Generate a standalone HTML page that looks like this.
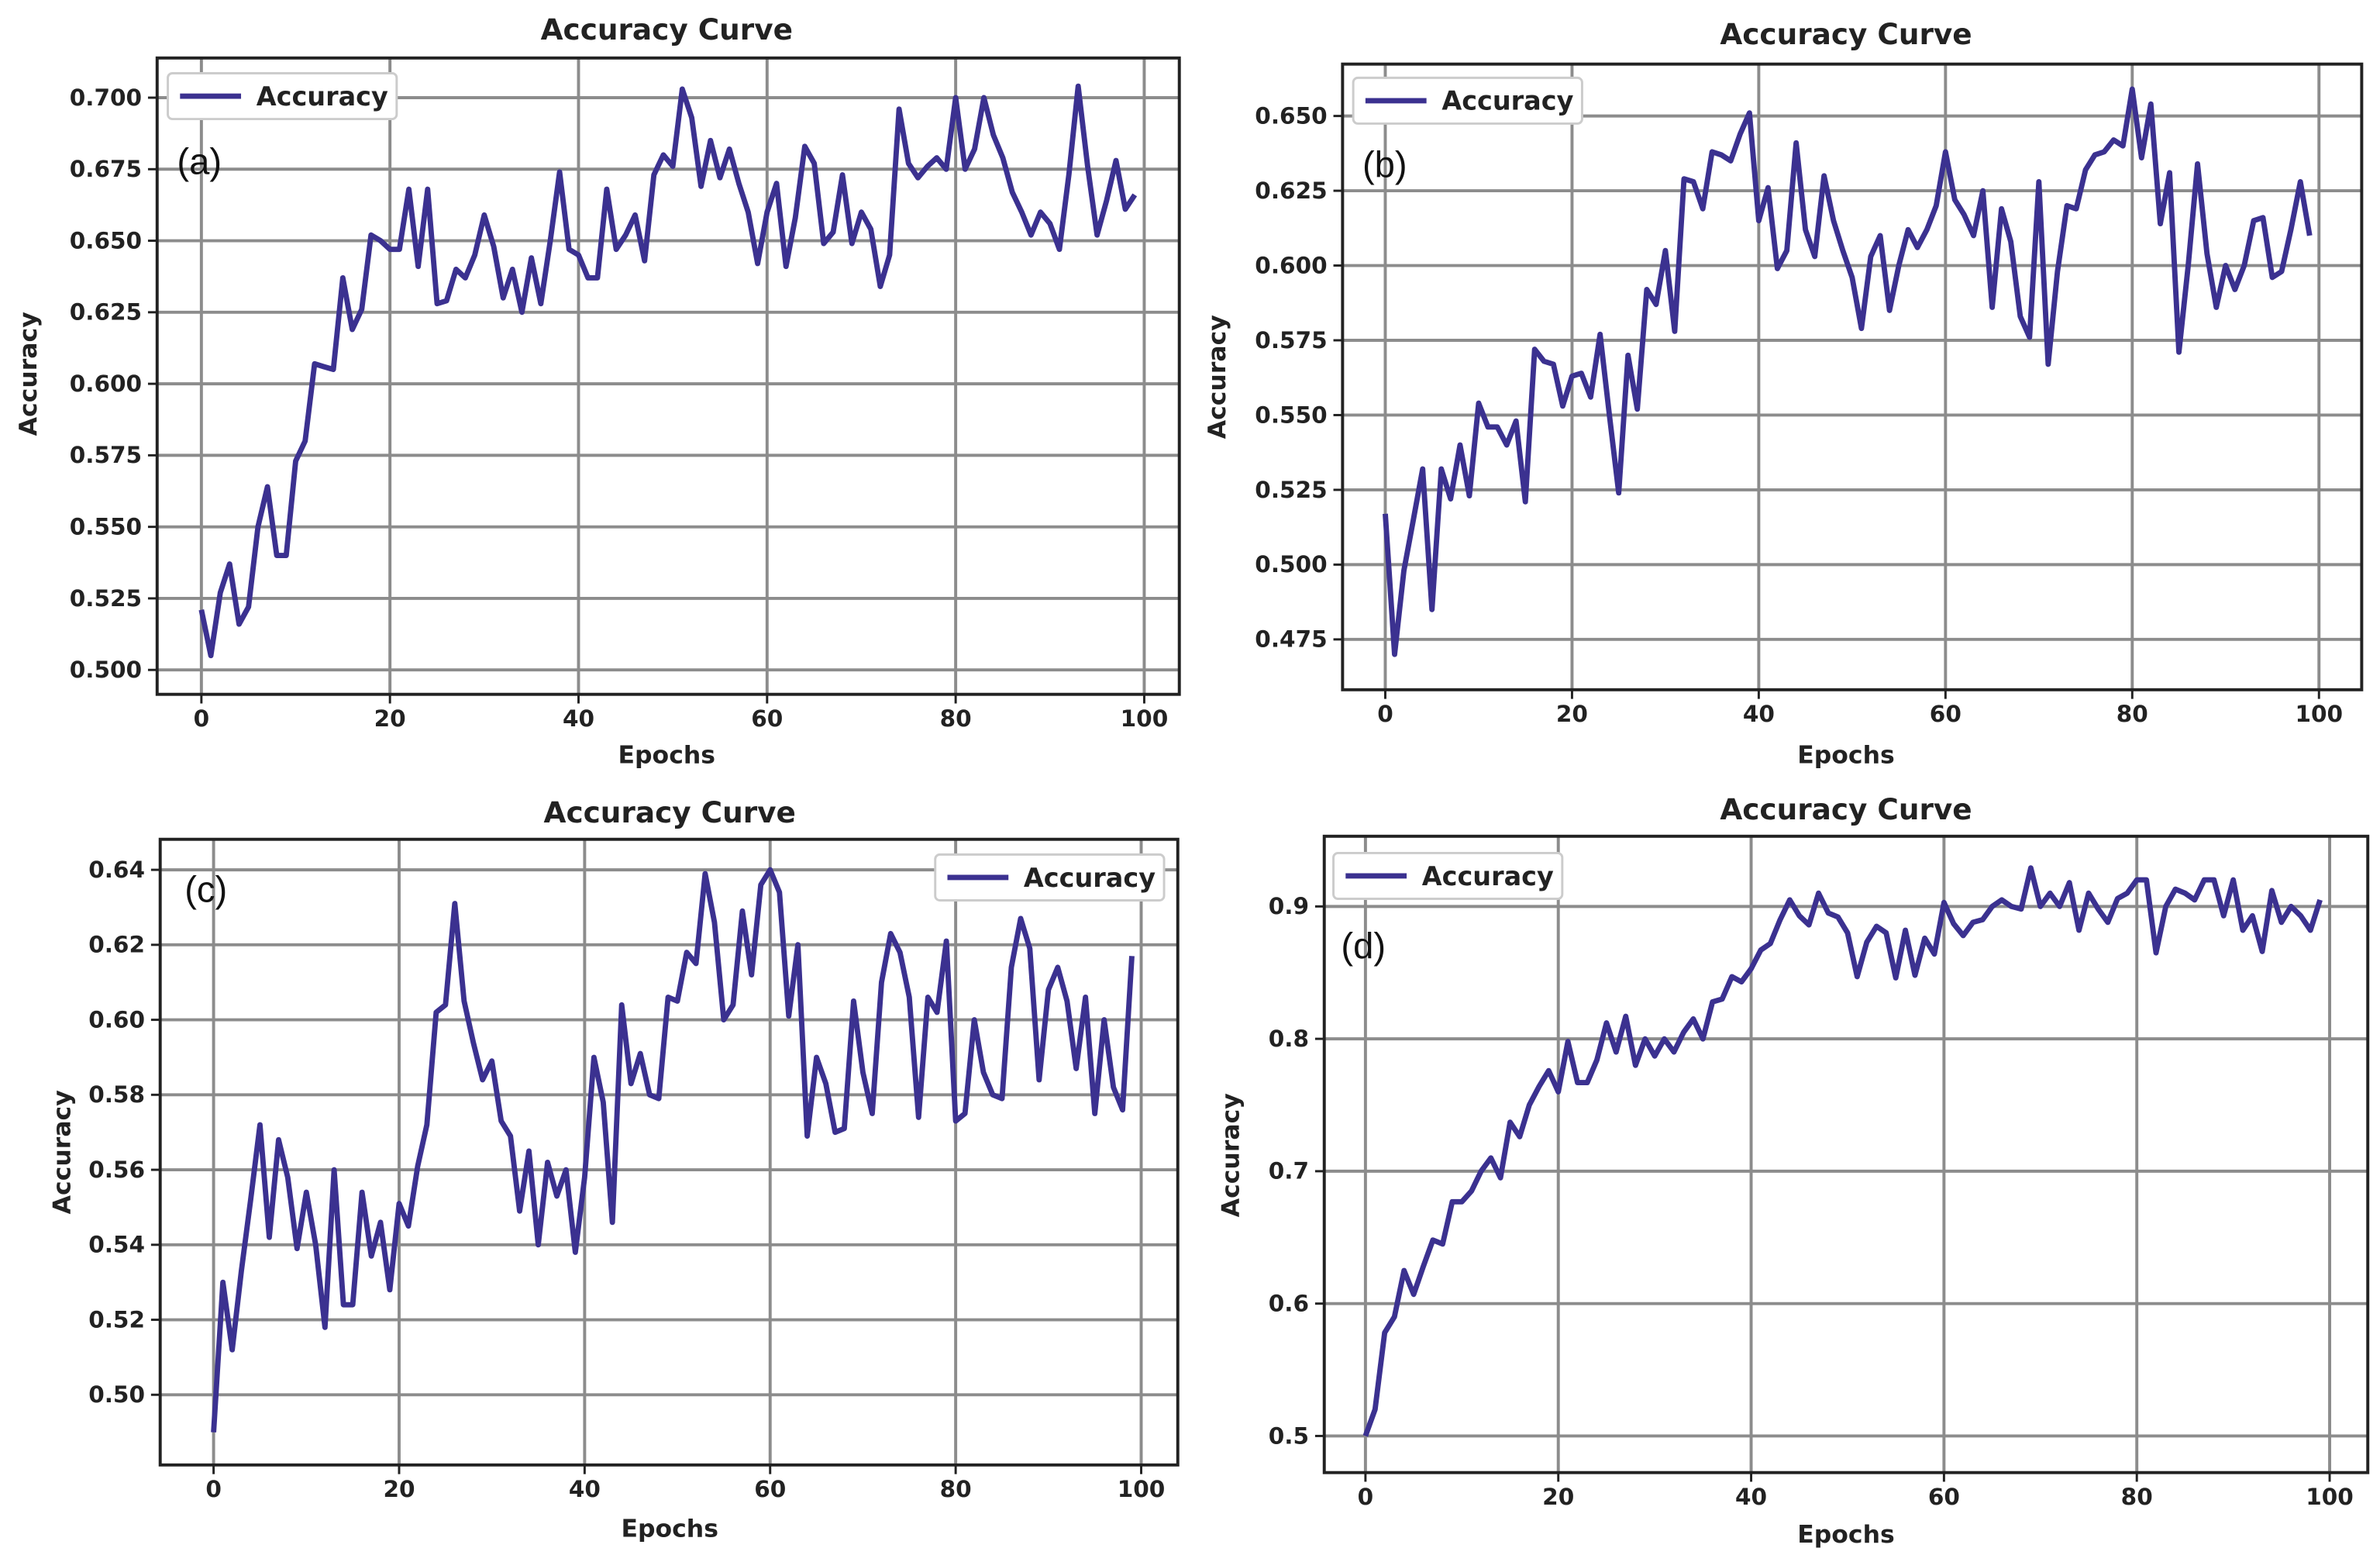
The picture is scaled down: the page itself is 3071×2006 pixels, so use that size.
<!DOCTYPE html>
<html><head><meta charset="utf-8">
<style>html,body{margin:0;padding:0;background:#fff}svg{display:block}</style>
</head><body>
<svg id="s" width="3071" height="2006" viewBox="0 0 1560 1019" xmlns="http://www.w3.org/2000/svg" font-family="DejaVu Sans, Liberation Sans, sans-serif"></svg>
<script>
const A=[0.521,0.505,0.527,0.537,0.516,0.522,0.55,0.564,0.54,0.54,0.573,0.58,0.607,0.606,0.605,0.637,0.619,0.626,0.652,0.65,0.647,0.647,0.668,0.641,0.668,0.628,0.629,0.64,0.637,0.645,0.659,0.648,0.63,0.64,0.625,0.644,0.628,0.65,0.674,0.647,0.645,0.637,0.637,0.668,0.647,0.652,0.659,0.643,0.673,0.68,0.676,0.703,0.693,0.669,0.685,0.672,0.682,0.67,0.66,0.642,0.66,0.67,0.641,0.658,0.683,0.677,0.649,0.653,0.673,0.649,0.66,0.654,0.634,0.645,0.696,0.677,0.672,0.676,0.679,0.675,0.7,0.675,0.682,0.7,0.687,0.679,0.667,0.66,0.652,0.66,0.656,0.647,0.673,0.704,0.676,0.652,0.664,0.678,0.661,0.666];
const B=[0.517,0.47,0.498,0.515,0.532,0.485,0.532,0.522,0.54,0.523,0.554,0.546,0.546,0.54,0.548,0.521,0.572,0.568,0.567,0.553,0.563,0.564,0.556,0.577,0.55,0.524,0.57,0.552,0.592,0.587,0.605,0.578,0.629,0.628,0.619,0.638,0.637,0.635,0.644,0.651,0.615,0.626,0.599,0.605,0.641,0.612,0.603,0.63,0.615,0.605,0.596,0.579,0.603,0.61,0.585,0.6,0.612,0.606,0.612,0.62,0.638,0.622,0.617,0.61,0.625,0.586,0.619,0.608,0.583,0.576,0.628,0.567,0.598,0.62,0.619,0.632,0.637,0.638,0.642,0.64,0.659,0.636,0.654,0.614,0.631,0.571,0.6,0.634,0.604,0.586,0.6,0.592,0.6,0.615,0.616,0.596,0.598,0.612,0.628,0.61];
const C=[0.49,0.53,0.512,0.533,0.552,0.572,0.542,0.568,0.558,0.539,0.554,0.54,0.518,0.56,0.524,0.524,0.554,0.537,0.546,0.528,0.551,0.545,0.561,0.572,0.602,0.604,0.631,0.605,0.594,0.584,0.589,0.573,0.569,0.549,0.565,0.54,0.562,0.553,0.56,0.538,0.558,0.59,0.578,0.546,0.604,0.583,0.591,0.58,0.579,0.606,0.605,0.618,0.615,0.639,0.626,0.6,0.604,0.629,0.612,0.636,0.64,0.634,0.601,0.62,0.569,0.59,0.583,0.57,0.571,0.605,0.586,0.575,0.61,0.623,0.618,0.606,0.574,0.606,0.602,0.621,0.573,0.575,0.6,0.586,0.58,0.579,0.614,0.627,0.619,0.584,0.608,0.614,0.605,0.587,0.606,0.575,0.6,0.582,0.576,0.617];
const D=[0.5,0.52,0.578,0.59,0.625,0.607,0.628,0.648,0.645,0.677,0.677,0.685,0.7,0.71,0.695,0.737,0.726,0.75,0.764,0.776,0.76,0.798,0.767,0.767,0.784,0.812,0.79,0.817,0.78,0.8,0.787,0.8,0.79,0.805,0.815,0.8,0.828,0.83,0.847,0.843,0.853,0.867,0.872,0.89,0.905,0.893,0.886,0.91,0.895,0.892,0.88,0.847,0.873,0.885,0.88,0.846,0.882,0.848,0.876,0.864,0.903,0.887,0.878,0.888,0.89,0.9,0.905,0.9,0.898,0.929,0.9,0.91,0.9,0.918,0.882,0.91,0.898,0.888,0.906,0.91,0.92,0.92,0.865,0.9,0.913,0.91,0.905,0.92,0.92,0.893,0.92,0.882,0.893,0.866,0.912,0.888,0.9,0.893,0.882,0.905];
const P=[
{d:A,box:[103,38,773,455],x0:132,x1:750,yv:[0.5,0.7],yp:[439,64],yt:[0.5,0.525,0.55,0.575,0.6,0.625,0.65,0.675,0.7],dec:3,title:[437,20],lab:'(a)',lp:[116,106],leg:[110,48],ylab:[18,245],xlab:[437,494]},
{d:B,box:[880,42,1548,452],x0:908,x1:1520,yv:[0.475,0.65],yp:[419,76],yt:[0.475,0.5,0.525,0.55,0.575,0.6,0.625,0.65],dec:3,title:[1210,23],lab:'(b)',lp:[893,108],leg:[887,51],ylab:[797,247],xlab:[1210,494]},
{d:C,box:[105,550,772,960],x0:140,x1:748,yv:[0.5,0.64],yp:[914,570],yt:[0.5,0.52,0.54,0.56,0.58,0.6,0.62,0.64],dec:2,title:[439,533],lab:'(c)',lp:[121,583],leg:[613,560],ylab:[40,755],xlab:[439,1001]},
{d:D,box:[868,548,1552,965],x0:895,x1:1527,yv:[0.5,0.9],yp:[941,594],yt:[0.5,0.6,0.7,0.8,0.9],dec:1,title:[1210,531],lab:'(d)',lp:[879,620],leg:[874,559],ylab:[806,757],xlab:[1210,1005]}];
let h='';
for(const p of P){
 const [L,T,R,Bt]=p.box;
 const fx=i=>p.x0+(p.x1-p.x0)*i/100;
 const fy=v=>p.yp[0]+(p.yp[1]-p.yp[0])*(v-p.yv[0])/(p.yv[1]-p.yv[0]);
 for(let i=0;i<=100;i+=20){const x=fx(i);h+=`<line x1="${x}" y1="${T}" x2="${x}" y2="${Bt}" stroke="#8c8c8c" stroke-width="2"/><line x1="${x}" y1="${Bt}" x2="${x}" y2="${Bt+6}" stroke="#222" stroke-width="1.5"/><text x="${x}" y="${Bt+21}" font-size="15" font-weight="bold" fill="#222" text-anchor="middle">${i}</text>`;}
 for(const v of p.yt){const y=fy(v);h+=`<line x1="${L}" y1="${y}" x2="${R}" y2="${y}" stroke="#8c8c8c" stroke-width="2"/><line x1="${L-6}" y1="${y}" x2="${L}" y2="${y}" stroke="#222" stroke-width="1.5"/><text x="${L-10}" y="${y+5}" font-size="15" font-weight="bold" fill="#222" text-anchor="end">${v.toFixed(p.dec)}</text>`;}
 h+=`<polyline fill="none" stroke="#3b3190" stroke-width="3.5" stroke-linejoin="round" points="${p.d.map((v,i)=>fx(i).toFixed(1)+','+fy(v).toFixed(1)).join(' ')}"/>`;
 h+=`<rect x="${L}" y="${T}" width="${R-L}" height="${Bt-T}" fill="none" stroke="#222" stroke-width="2"/>`;
 h+=`<text x="${p.title[0]}" y="${p.title[1]+6}" font-size="19" font-weight="bold" fill="#222" text-anchor="middle">Accuracy Curve</text>`;
 h+=`<text x="${p.xlab[0]}" y="${p.xlab[1]+6}" font-size="16" font-weight="bold" fill="#222" text-anchor="middle">Epochs</text>`;
 h+=`<text transform="translate(${p.ylab[0]+6},${p.ylab[1]}) rotate(-90)" font-size="16" font-weight="bold" fill="#222" text-anchor="middle">Accuracy</text>`;
 const [gx,gy]=p.leg;
 h+=`<rect x="${gx}" y="${gy}" width="150" height="30" rx="3" fill="#fff" stroke="#ccc" stroke-width="1.5"/><line x1="${gx+8}" y1="${gy+15}" x2="${gx+48}" y2="${gy+15}" stroke="#3b3190" stroke-width="3.5"/><text x="${gx+58}" y="${gy+21}" font-size="17" font-weight="bold" fill="#222">Accuracy</text>`;
 h+=`<text x="${p.lp[0]}" y="${p.lp[1]+8}" font-size="24" fill="#111" font-family="Liberation Sans, sans-serif">${p.lab}</text>`;
}
document.getElementById('s').innerHTML=h;
</script>
</body></html>
